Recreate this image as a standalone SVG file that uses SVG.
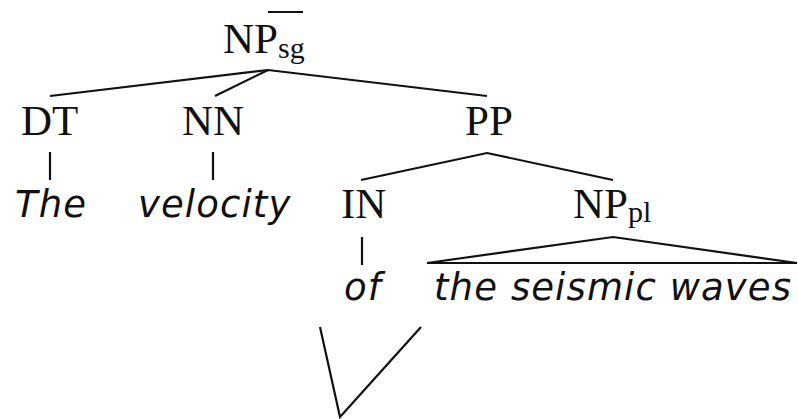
<svg xmlns="http://www.w3.org/2000/svg" width="798" height="419" viewBox="0 0 798 419">
<style>
.cat{font-family:"Liberation Serif","Times New Roman",serif;font-size:43px;fill:#111}
.sub{font-size:30px}
.word{font-family:"DejaVu Sans","Liberation Sans",sans-serif;font-style:italic;font-size:37px;letter-spacing:1.1px;fill:#111}
.edge{stroke:#111;stroke-width:2.2;fill:none;stroke-linejoin:miter}
</style>
<rect width="798" height="419" fill="#fff"/>
<g id="connectors">
<line class="edge" x1="268" y1="12" x2="303" y2="12"/>
<polyline class="edge" points="50,96 268,70 487,96"/>
<line class="edge" x1="215" y1="96" x2="268" y2="70"/>
<polyline class="edge" points="361,180 487,153 613,180"/>
<line class="edge" x1="50" y1="152" x2="50" y2="180"/>
<line class="edge" x1="213" y1="152" x2="213" y2="180"/>
<line class="edge" x1="362" y1="237" x2="362" y2="265"/>
<polygon class="edge" points="427,263 613,237 797,263"/>
<line class="edge" x1="427" y1="263" x2="797" y2="263" stroke-width="3"/>
<polyline class="edge" points="320,327 340,417 421,327"/>
</g>
<g id="np-sg"><text class="cat" x="223" y="53">NP<tspan class="sub" dy="5">sg</tspan></text></g>
<g id="dt"><text class="cat" x="21" y="135">DT</text></g>
<g id="nn"><text class="cat" x="182" y="135">NN</text></g>
<g id="pp"><text class="cat" x="465" y="135">PP</text></g>
<g id="in"><text class="cat" x="341" y="218">IN</text></g>
<g id="np-pl"><text class="cat" x="573" y="218">NP<tspan class="sub" dy="4">pl</tspan></text></g>
<g id="w-the"><text class="word" x="15" y="217">The</text></g>
<g id="w-velocity"><text class="word" x="138" y="217">velocity</text></g>
<g id="w-of"><text class="word" x="344" y="300">of</text></g>
<g id="w-waves"><text class="word" x="434" y="300">the seismic waves</text></g>
</svg>
